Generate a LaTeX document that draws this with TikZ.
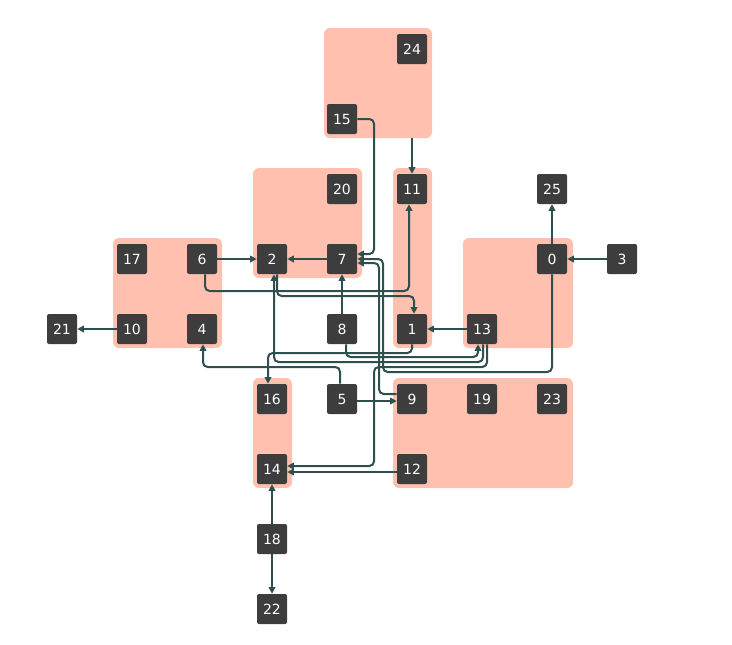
\documentclass[tikz,border=0pt]{standalone}
\usepackage{fontspec}
\setmainfont{DejaVu Sans}
\usetikzlibrary{arrows.meta,calc,fit}
\definecolor{nodefill}{HTML}{3D3D3D}
\definecolor{grp}{HTML}{FFC0B0}
\definecolor{edgecol}{HTML}{2F4F4F}
\begin{document}
\begin{tikzpicture}[x=0.75pt,y=-0.75pt,
 box/.style={fill=nodefill,text=white,rounded corners=1.5pt,minimum size=22.5pt,inner sep=0pt,font=\fontsize{10.5}{12}\selectfont},
 grpbox/.style={fill=grp,rounded corners=4.5pt,inner sep=0pt},
 conn/.style={draw=edgecol,line width=1.5pt,rounded corners=3.5pt,-{Triangle[length=5pt,width=5pt]}},
]
\useasboundingbox (0,0) rectangle (732,644);
% groups
\node[grpbox,fit={(324,28) (432,138)}] (gA) {};
\node[grpbox,fit={(253,168) (362,278)}] (gB) {};
\node[grpbox,fit={(393,168) (432,348)}] (gC) {};
\node[grpbox,fit={(113,238) (222,348)}] (gD) {};
\node[grpbox,fit={(463,238) (573,348)}] (gE) {};
\node[grpbox,fit={(253,378) (292,488)}] (gF) {};
\node[grpbox,fit={(393,378) (573,488)}] (gG) {};
% nodes
\node[box] (n0) at (552,259) {0};
\node[box] (n1) at (412,329) {1};
\node[box] (n2) at (272,259) {2};
\node[box] (n3) at (622,259) {3};
\node[box] (n4) at (202,329) {4};
\node[box] (n5) at (342,399) {5};
\node[box] (n6) at (202,259) {6};
\node[box] (n7) at (342,259) {7};
\node[box] (n8) at (342,329) {8};
\node[box] (n9) at (412,399) {9};
\node[box] (n10) at (132,329) {10};
\node[box] (n11) at (412,189) {11};
\node[box] (n12) at (412,469) {12};
\node[box] (n13) at (482,329) {13};
\node[box] (n14) at (272,469) {14};
\node[box] (n15) at (342,119) {15};
\node[box] (n16) at (272,399) {16};
\node[box] (n17) at (132,259) {17};
\node[box] (n18) at (272,539) {18};
\node[box] (n19) at (482,399) {19};
\node[box] (n20) at (342,189) {20};
\node[box] (n21) at (62,329) {21};
\node[box] (n22) at (272,609) {22};
\node[box] (n23) at (552,399) {23};
\node[box] (n24) at (412,49) {24};
\node[box] (n25) at (552,189) {25};
% connectors
\draw[conn] (gA.south -| n11) -- (n11.north);
\draw[conn] (n6.east) -- (n2.west);
\draw[conn] (n7.west) -- (n2.east);
\draw[conn] (n3.west) -- (n0.east);
\draw[conn] (n0.north) -- (n25.south);
\draw[conn] (n10.west) -- (n21.east);
\draw[conn] (n8.north) -- (n7.south);
\draw[conn] (n13.west) -- (n1.east);
\draw[conn] ($(n5.east)+(0,2)$) -- ($(n9.west)+(0,2)$);
\draw[conn] ($(n12.west)+(0,3)$) -- ($(n14.east)+(0,3)$);
\draw[conn] (n18.north) -- (n14.south);
\draw[conn] (n18.south) -- (n22.north);
\draw[conn] (n15.east) -- (374,119) -- (374,254) -- ($(n7.east)+(0,-5)$);
\draw[conn] ($(n6.south)+(3,0)$) -- (205,291) -- (409,291) -- ($(n11.south)+(-3,0)$);
\draw[conn] ($(n2.south)+(5,0)$) -- (277,296) -- (414,296) -- ($(n1.north)+(2,0)$);
\draw[conn] ($(n13.south)+(1,0)$) -- (483,362) -- (274,362) -- ($(n2.south)+(2,0)$);
\draw[conn] (n1.south) -- (412,353) -- (268,353) -- ($(n16.north)+(-4,0)$);
\draw[conn] ($(n8.south)+(4,0)$) -- (346,357) -- (478,357) -- ($(n13.south)+(-4,0)$);
\draw[conn] ($(n13.south)+(5,0)$) -- (487,367) -- (374,367) -- (374,466) -- ($(n14.east)+(0,-3)$);
\draw[conn] (n0.south) -- (552,372) -- (383,372) -- (383,259) -- (n7.east);
\draw[conn] ($(n9.west)+(0,-5)$) -- (379,394) -- (379,263) -- ($(n7.east)+(0,4)$);
\draw[conn] ($(n5.north)+(-2,0)$) -- (340,367) -- (203,367) -- ($(n4.south)+(1,0)$);
\end{tikzpicture}
\end{document}
